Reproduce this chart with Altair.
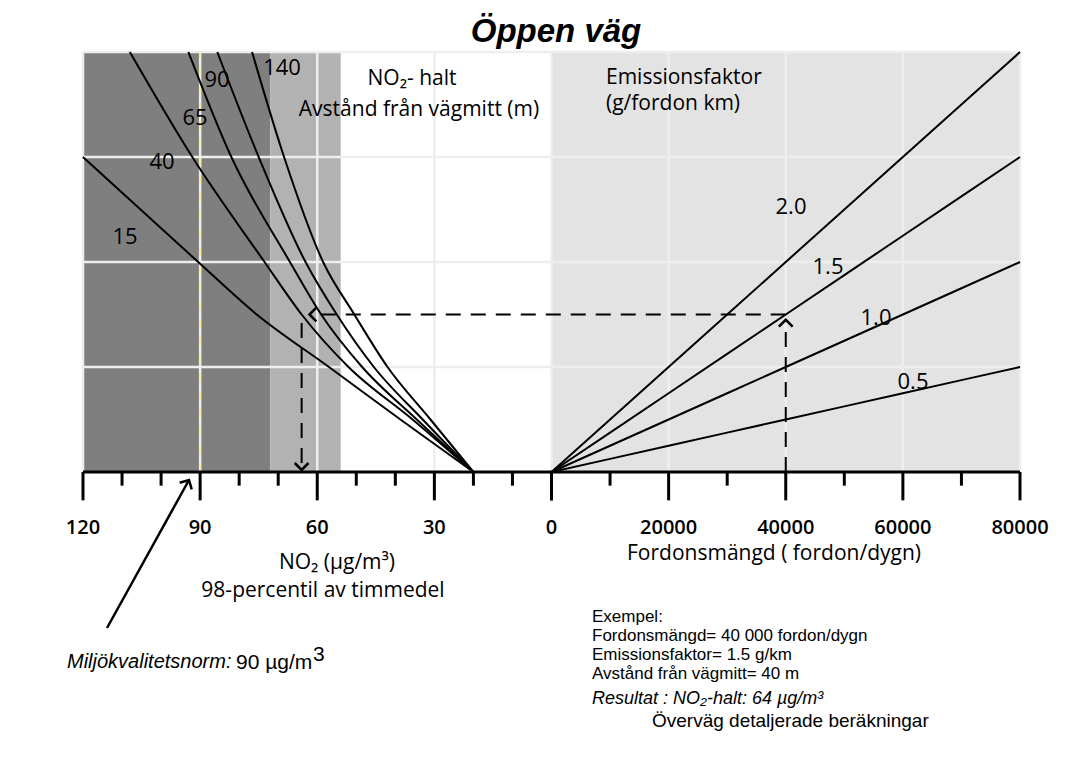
import altair as alt
import pandas as pd

# ------------------------------------------------------------------ data
no2_ticks = [0, 10, 20, 30, 40, 50, 60, 70, 80, 90, 100, 110, 120]
no2_labelled = [0, 30, 60, 90, 120]
traffic_ticks = [0, 10000, 20000, 30000, 40000, 50000, 60000, 70000, 80000]
traffic_labelled = [20000, 40000, 60000, 80000]

# left panel: NO2 (µg/m3) reached for a given emission load, per distance (m)
distance_names = ["15", "40", "65", "90", "140"]
load_levels = [0.0, 0.5, 1.0, 1.5, 2.0, 3.0, 4.0]
no2_15 = [20, 38.7, 57, 75.5, 90.5, 120]
no2_40 = [20, 35.6, 52, 64, 73.5, 92, 108]
no2_65 = [20, 34.5, 48.5, 59, 67, 82, 93]
no2_90 = [20, 33, 45.5, 55, 63, 75, 85.6]
no2_140 = [20, 31, 42, 50.5, 58.5, 68.5, 76.7]

# right panel: emission load per traffic volume, per emission factor (g/fordon km)
ef_names = ["0.5", "1.0", "1.5", "2.0"]
traffic_levels = [0, 20000, 40000, 60000, 80000]
load_ef05 = [0.0, 0.25, 0.5, 0.75, 1.0]
load_ef10 = [0.0, 0.5, 1.0, 1.5, 2.0]
load_ef15 = [0.0, 0.75, 1.5, 2.25, 3.0]
load_ef20 = [0.0, 1.0, 2.0, 3.0, 4.0]

norm_no2 = 90          # miljökvalitetsnorm
upper_assessment = 72  # övre utvärderingströskel
lower_assessment = 54  # nedre utvärderingströskel

example_traffic = 40000
example_load = 1.5
example_no2 = 64
example_arrow_no2 = 62

# ------------------------------------------------------------------ layout helpers
FONT = "Open Sans"
PL, PT, W, H = 83, 52, 937, 420
U_MIN, U_MAX, V_MAX = -120, 120, 4
NO2_MAX, TRAFFIC_MAX = 120, 80000


def u_no2(c):
    return -c


def u_tr(t):
    return t / TRAFFIC_MAX * U_MAX


def px2u(px):
    return (px - PL) / W * (U_MAX - U_MIN) + U_MIN


def px2v(py):
    return V_MAX - (py - PT) / H * V_MAX


xs = alt.Scale(domain=[U_MIN, U_MAX], nice=False, zero=False)
ys = alt.Scale(domain=[0, V_MAX], nice=False, zero=False)


def X(f):
    return alt.X(f + ":Q", scale=xs, axis=None)


def Y(f):
    return alt.Y(f + ":Q", scale=ys, axis=None)


# ------------------------------------------------------------------ backgrounds
bg = pd.DataFrame({
    "u": [u_no2(NO2_MAX), u_no2(upper_assessment), u_tr(0)],
    "u2": [u_no2(upper_assessment), u_no2(lower_assessment), u_tr(TRAFFIC_MAX)],
    "v": [0, 0, 0], "v2": [V_MAX] * 3,
    "c": ["#7f7f7f", "#b2b2b2", "#e3e3e3"],
})
bg_layer = alt.Chart(bg).mark_rect().encode(
    x=X("u"), x2="u2", y=Y("v"), y2="v2", color=alt.Color("c:N", scale=None))

grid_x_vals = [u_no2(c) for c in [120, 90, 60, 30]] + [u_tr(t) for t in [0, 20000, 40000, 60000, 80000]]
gx = pd.DataFrame({"u": grid_x_vals, "v": 0, "v2": V_MAX})
gx_layer = alt.Chart(gx).mark_rule(color="#eeeeee", strokeWidth=2.5).encode(
    x=X("u"), y=Y("v"), y2="v2")
gy = pd.DataFrame({"v": [1, 2, 3, 4], "u": U_MIN, "u2": U_MAX})
gy_layer = alt.Chart(gy).mark_rule(color="#eeeeee", strokeWidth=2.5).encode(
    y=Y("v"), x=X("u"), x2="u2")

norm_df = pd.DataFrame({"u": [u_no2(norm_no2)], "v": [0], "v2": [V_MAX]})
norm_layer = alt.Chart(norm_df).mark_rule(color="#f5eea0", strokeWidth=2, strokeDash=[9, 9]).encode(
    x=X("u"), y=Y("v"), y2="v2")

# ------------------------------------------------------------------ curves
rows = []
for name, vals in zip(distance_names, [no2_15, no2_40, no2_65, no2_90, no2_140]):
    for lv, c in zip(load_levels, vals):
        rows.append({"s": "d" + name, "u": u_no2(c), "v": lv})
for name, vals in zip(ef_names, [load_ef05, load_ef10, load_ef15, load_ef20]):
    for t, lv in zip(traffic_levels, vals):
        rows.append({"s": "e" + name, "u": u_tr(t), "v": lv})
curves = pd.DataFrame(rows)
curve_layer = alt.Chart(curves).mark_line(color="black", strokeWidth=2, interpolate="monotone").encode(
    x=X("u"), y=Y("v"), detail="s:N", order="u:Q")

# ------------------------------------------------------------------ example (dashed path)
ex = pd.DataFrame([
    {"u": u_tr(example_traffic), "u2": u_tr(example_traffic), "v": 0.0, "v2": 1.42},
    {"u": u_tr(example_traffic), "u2": u_no2(example_arrow_no2), "v": example_load, "v2": example_load},
    {"u": u_no2(example_no2), "u2": u_no2(example_no2), "v": 1.42, "v2": 0.03},
])
ex_layer = alt.Chart(ex).mark_rule(color="black", strokeWidth=2, strokeDash=[15, 10]).encode(
    x=X("u"), x2="u2", y=Y("v"), y2="v2")

norm_arrow = pd.DataFrame({"u": [px2u(107)], "u2": [px2u(189)], "v": [px2v(628)], "v2": [px2v(480)]})
norm_arrow_layer = alt.Chart(norm_arrow).mark_rule(color="black", strokeWidth=2.5).encode(
    x=X("u"), x2="u2", y=Y("v"), y2="v2")

heads = pd.DataFrame([
    {"u": u_tr(example_traffic), "v": 1.45, "a": 0},
    {"u": u_no2(example_arrow_no2), "v": example_load, "a": 270},
    {"u": u_no2(example_no2), "v": 0.02, "a": 180},
    {"u": px2u(189), "v": px2v(480), "a": 29},
])
head_layer = alt.Chart(heads).mark_point(
    shape="M-1,1L0,0L1,1", filled=False, color="black", strokeWidth=2.5, size=190, opacity=1
).encode(x=X("u"), y=Y("v"), angle=alt.Angle("a:Q", scale=None))

# ------------------------------------------------------------------ axis
base = pd.DataFrame({"u": [U_MIN], "u2": [U_MAX], "v": [0]})
base_layer = alt.Chart(base).mark_rule(color="black", strokeWidth=3).encode(
    x=X("u"), x2="u2", y=Y("v"))

tick_rows = []
for c in no2_ticks:
    tick_rows.append({"u": u_no2(c), "v": 0, "v2": -0.27 if c in no2_labelled else -0.13})
for t in traffic_ticks:
    tick_rows.append({"u": u_tr(t), "v": 0, "v2": -0.27 if (t % 20000 == 0) else -0.13})
ticks = pd.DataFrame(tick_rows)
tick_layer = alt.Chart(ticks).mark_rule(color="black", strokeWidth=3).encode(
    x=X("u"), y=Y("v"), y2="v2")

lab_rows = [{"u": u_no2(c), "t": str(c)} for c in no2_labelled]
lab_rows += [{"u": u_tr(t), "t": str(t)} for t in traffic_labelled]
labs = pd.DataFrame(lab_rows)
labs["v"] = px2v(528)
lab_layer = alt.Chart(labs).mark_text(font=FONT, fontSize=20, fontWeight=600, color="black",
                                      baseline="middle", align="center").encode(
    x=X("u"), y=Y("v"), text="t:N")


# ------------------------------------------------------------------ texts
def texts(items, **kw):
    df = pd.DataFrame([{"u": px2u(x), "v": px2v(y), "t": t} for x, y, t in items])
    props = dict(font=FONT, fontSize=22, color="black", baseline="middle", align="center")
    props.update(kw)
    return alt.Chart(df).mark_text(**props).encode(x=X("u"), y=Y("v"), text="t:N")


curve_labels = texts([
    (125, 237, "15"), (162, 162, "40"), (195, 118, "65"), (217, 80, "90"), (282, 68, "140"),
    (791, 207, "2.0"), (828, 267, "1.5"), (876, 318, "1.0"), (913, 382, "0.5"),
])
inner_titles = texts([(412, 79, "NO₂- halt"), (419, 110, "Avstånd från vägmitt (m)")], fontSize=21)
ef_titles = texts([(606, 78, "Emissionsfaktor"), (606, 104, "(g/fordon km)")], fontSize=21, align="left")
axis_titles = texts([(337, 563, "NO₂ (µg/m³)"), (323, 591, "98-percentil av timmedel"),
                     (774, 554, "Fordonsmängd ( fordon/dygn)")], fontSize=21)
example_txt = texts([
    (592, 617, "Exempel:"),
    (592, 636, "Fordonsmängd= 40 000  fordon/dygn"),
    (592, 655, "Emissionsfaktor= 1.5 g/km"),
    (592, 674, "Avstånd från vägmitt= 40 m"),
], font="Liberation Sans", fontSize=17, align="left")
result_txt = texts([(592, 699, "Resultat : NO₂-halt: 64 µg/m³")], font="Liberation Sans",
                   fontStyle="italic", fontSize=18, align="left")
advice_txt = texts([(652, 721, "Överväg detaljerade beräkningar")], font="Liberation Sans",
                   fontSize=19, align="left")
norm_txt = texts([(67, 662, "Miljökvalitetsnorm:")], font="Liberation Sans",
                 fontStyle="italic", fontSize=20, align="left")
norm_val = texts([(236, 663, "90 µg/m")], font="Liberation Sans", fontSize=21, align="left")
norm_sup = texts([(313, 655, "3")], font="Liberation Sans", fontSize=21, align="left")
title_txt = texts([(556, 32, "Öppen väg")], font="Liberation Sans", fontStyle="italic",
                  fontWeight="bold", fontSize=33)

chart = alt.layer(
    bg_layer, gx_layer, gy_layer, norm_layer, curve_layer, ex_layer, norm_arrow_layer,
    head_layer, base_layer, tick_layer, lab_layer, curve_labels, inner_titles, ef_titles,
    axis_titles, example_txt, result_txt, advice_txt, norm_txt, norm_val, norm_sup, title_txt,
).properties(
    width=W, height=H,
    autosize=alt.AutoSizeParams(type="none"),
    padding={"left": PL - 8, "top": PT - 8, "right": 30, "bottom": 270},
    background="white",
).configure_view(stroke=None)

chart.save("out.html", embed_options={"renderer": "svg", "actions": False})
